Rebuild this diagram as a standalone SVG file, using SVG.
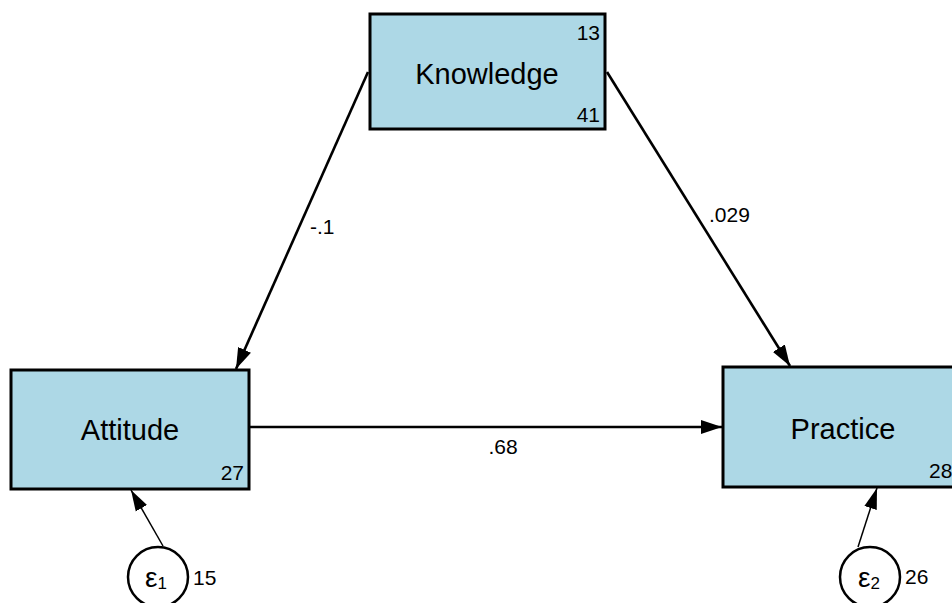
<svg xmlns="http://www.w3.org/2000/svg" width="952" height="603" viewBox="0 0 952 603">
<style>
.box{fill:#ADD8E6;stroke:#000;stroke-width:3}
.lab{font-family:"Liberation Sans",Arial,sans-serif;fill:#000}
.big{font-size:29px;text-anchor:middle}
.num{font-size:21px}
.conn{stroke:#000;stroke-width:2.6;fill:none}
.thin{stroke:#000;stroke-width:1.5;fill:none}
.circ{fill:#fff;stroke:#000;stroke-width:2.5}
</style>
<defs>
<marker id="ah" markerUnits="userSpaceOnUse" markerWidth="22" markerHeight="14" refX="21" refY="7" orient="auto">
<path d="M0,0 L21,7 L0,14 Z" fill="#000"/>
</marker>
<marker id="ah2" markerUnits="userSpaceOnUse" markerWidth="22" markerHeight="14" refX="21" refY="7" orient="auto">
<path d="M0,0.5 L21,7 L0,13.5 Z" fill="#000"/>
</marker>
</defs>
<rect width="952" height="603" fill="#fff"/>
<g id="connectors">
<line class="conn" x1="368" y1="72" x2="236" y2="369" marker-end="url(#ah)"/>
<line class="conn" x1="607" y1="72" x2="790" y2="366" marker-end="url(#ah)"/>
<line class="conn" x1="250" y1="427" x2="722" y2="427" marker-end="url(#ah)"/>
<line class="thin" x1="163" y1="546" x2="131" y2="490" marker-end="url(#ah2)"/>
<line class="thin" x1="858" y1="547" x2="877" y2="488" marker-end="url(#ah2)"/>
<text class="lab num" x="310" y="234">-.1</text>
<text class="lab num" x="709" y="222">.029</text>
<text class="lab num" x="503" y="454" text-anchor="middle">.68</text>
</g>
<g id="knowledge">
<rect class="box" x="370" y="14" width="235" height="115"/>
<text class="lab big" x="487" y="84">Knowledge</text>
<text class="lab num" x="600" y="40" text-anchor="end">13</text>
<text class="lab num" x="600" y="122" text-anchor="end">41</text>
</g>
<g id="attitude">
<rect class="box" x="11" y="370" width="238" height="119"/>
<text class="lab big" x="130" y="440">Attitude</text>
<text class="lab num" x="244" y="480" text-anchor="end">27</text>
</g>
<g id="practice">
<rect class="box" x="723" y="367" width="240" height="120"/>
<text class="lab big" x="843" y="439">Practice</text>
<text class="lab num" x="929" y="478">28</text>
</g>
<g id="e1">
<circle class="circ" cx="158" cy="577" r="30"/>
<text class="lab" x="156" y="587" text-anchor="middle" font-size="28">ε<tspan font-size="17" dy="2">1</tspan></text>
<text class="lab num" x="193" y="585">15</text>
</g>
<g id="e2">
<circle class="circ" cx="870" cy="577" r="30"/>
<text class="lab" x="869" y="587" text-anchor="middle" font-size="28">ε<tspan font-size="17" dy="2">2</tspan></text>
<text class="lab num" x="905" y="584">26</text>
</g>
</svg>
